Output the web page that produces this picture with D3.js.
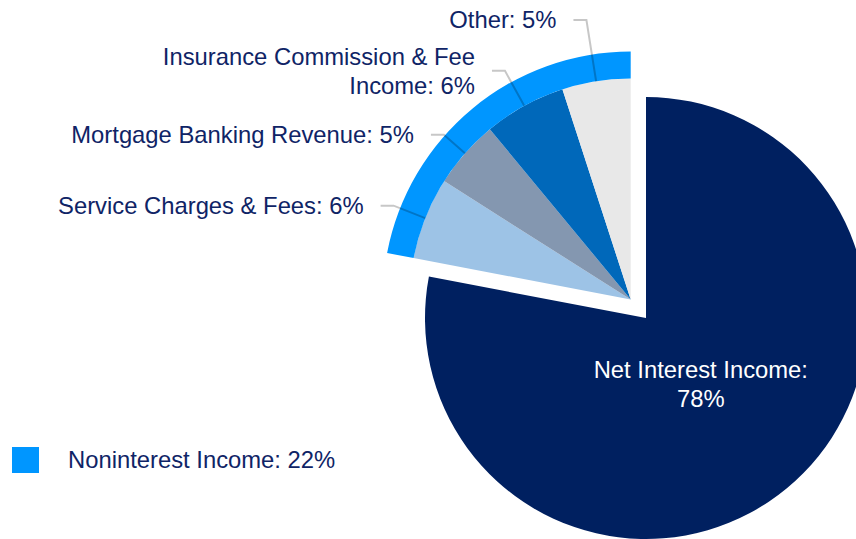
<!DOCTYPE html>
<html lang="en">
<head>
<meta charset="utf-8">
<title>Revenue Mix</title>
<script src="https://cdn.jsdelivr.net/npm/d3@7/dist/d3.min.js"></script>
<style>
  body { margin: 0; background: #fff; }
  text { font-family: "Liberation Sans", Arial, sans-serif; }
</style>
</head>
<body>
<script>
// data
var categories = ["Net Interest Income", "Service Charges & Fees", "Mortgage Banking Revenue",
                  "Insurance Commission & Fee Income", "Other"];
var values = [78, 6, 5, 6, 5];
var groupName = "Noninterest Income";
var groupValue = 22;

// label text, split where the reference wraps
var labelLines = [
  ["Net Interest Income:", "78%"],
  ["Service Charges & Fees: 6%"],
  ["Mortgage Banking Revenue: 5%"],
  ["Insurance Commission & Fee", "Income: 6%"],
  ["Other: 5%"]
];

var colors = ["#002060", "#9DC3E6", "#8497B0", "#0068BA", "#E8E8E8"];
var ringColor = "#0096FF";
var textColor = "#0F2466";

// layout
var width = 856, height = 539;
var cx = 646, cy = 318;      // centre of the main pie
var r = 221;                 // pie radius
var ringOuter = 248;         // outer edge of the noninterest ring
var explode = 24;            // offset of the exploded slices
var elbowR = [0, 255, 249, 261, 283];  // leader line elbows
var run = 13, gap = 17;
var fontSize = 23.8;

var svg = d3.select("body").append("svg")
  .attr("width", width)
  .attr("height", height);

var pie = d3.pie().sort(null).startAngle(0).endAngle(2 * Math.PI);
var arcs = pie(values);

var arc = d3.arc().innerRadius(0).outerRadius(r);

// main slice
var g0 = svg.append("g").attr("transform", "translate(" + cx + "," + cy + ")");
g0.append("path")
  .attr("d", arc(arcs[0]))
  .attr("fill", colors[0]);

// exploded group
var rest = arcs.slice(1);
var a0 = rest[0].startAngle, a1 = rest[rest.length - 1].endAngle;
var mid = (a0 + a1) / 2;
var ex = cx + explode * Math.sin(mid), ey = cy - explode * Math.cos(mid);

var g1 = svg.append("g").attr("transform", "translate(" + ex + "," + ey + ")");
g1.selectAll("path.slice")
  .data(rest)
  .enter()
  .append("path")
  .attr("class", "slice")
  .attr("d", arc)
  .attr("fill", function (d) { return colors[d.index]; });

g1.append("path")
  .attr("d", d3.arc().innerRadius(r).outerRadius(ringOuter)({startAngle: a0, endAngle: a1}))
  .attr("fill", ringColor);

// leader lines and labels
rest.forEach(function (d) {
  var i = d.index;
  var m = (d.startAngle + d.endAngle) / 2;
  var x1 = r * Math.sin(m), y1 = -r * Math.cos(m);
  var x2 = elbowR[i] * Math.sin(m), y2 = -elbowR[i] * Math.cos(m);
  var x3 = x2 - run;
  g1.append("polyline")
    .attr("points", [[x1, y1], [x2, y2], [x3, y2]].join(" "))
    .attr("fill", "none")
    .attr("stroke", "rgba(0,0,0,0.22)")
    .attr("stroke-width", 2);

  var lines = labelLines[i];
  var t = g1.append("text")
    .attr("x", x3 - gap)
    .attr("y", y2)
    .attr("text-anchor", "end")
    .attr("font-size", fontSize)
    .attr("fill", textColor);
  lines.forEach(function (s, k) {
    t.append("tspan")
      .attr("x", x3 - gap)
      .attr("dy", k === 0 ? (0.35 - (lines.length - 1) * 0.61) + "em" : "1.22em")
      .text(s);
  });
});

// label inside the main slice
var m0 = (arcs[0].startAngle + arcs[0].endAngle) / 2;
var lr = 86;
var lt = g0.append("text")
  .attr("text-anchor", "middle")
  .attr("font-size", fontSize)
  .attr("fill", "#fff");
labelLines[0].forEach(function (s, k) {
  lt.append("tspan")
    .attr("x", lr * Math.sin(m0))
    .attr("y", -lr * Math.cos(m0))
    .attr("dy", k === 0 ? "-0.28em" : "0.97em")
    .text(s);
});

// legend
var lg = svg.append("g").attr("transform", "translate(12,447)");
lg.append("rect")
  .attr("width", 27)
  .attr("height", 26)
  .attr("fill", ringColor);
lg.append("text")
  .attr("x", 56)
  .attr("y", 13)
  .attr("dy", "0.35em")
  .attr("font-size", fontSize)
  .attr("fill", textColor)
  .text(groupName + ": " + groupValue + "%");
</script>
</body>
</html>
